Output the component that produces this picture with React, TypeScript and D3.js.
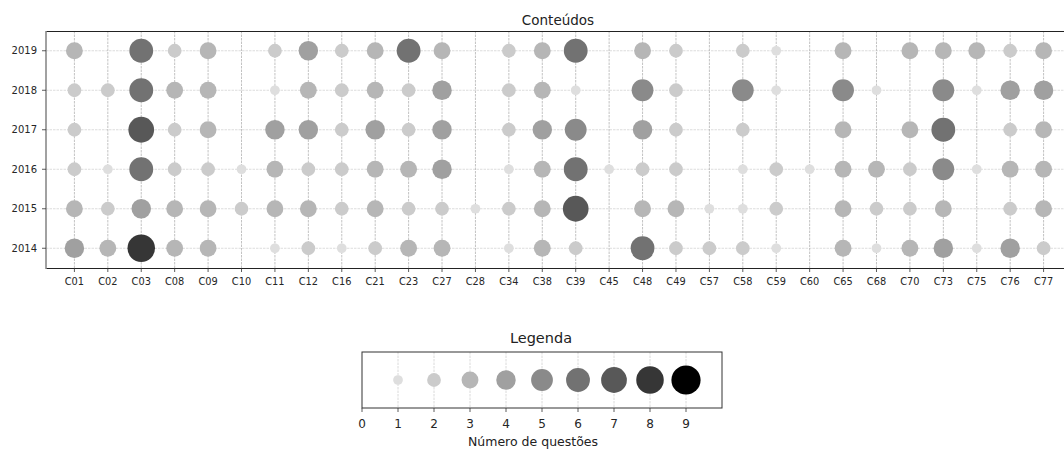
import React, { useEffect, useRef } from 'react';
import * as d3 from 'd3';

const categories = ['C01', 'C02', 'C03', 'C08', 'C09', 'C10', 'C11', 'C12', 'C16', 'C21', 'C23', 'C27', 'C28', 'C34', 'C38',
  'C39', 'C45', 'C48', 'C49', 'C57', 'C58', 'C59', 'C60', 'C65', 'C68', 'C70', 'C73', 'C75', 'C76', 'C77'];
const years = ['2014', '2015', '2016', '2017', '2018', '2019'];

// number of questions per category, 0 = none
const v2014 = [4, 3, 8, 3, 3, 0, 1, 2, 1, 2, 3, 3, 0, 1, 3, 2, 0, 6, 2, 2, 2, 1, 0, 3, 1, 3, 4, 1, 4, 2];
const v2015 = [3, 2, 4, 3, 3, 2, 3, 3, 2, 3, 2, 2, 1, 2, 3, 7, 0, 3, 3, 1, 1, 2, 0, 3, 2, 2, 3, 0, 2, 3];
const v2016 = [2, 1, 6, 2, 2, 1, 3, 2, 2, 3, 3, 4, 0, 1, 3, 6, 1, 2, 2, 0, 1, 2, 1, 3, 3, 2, 5, 1, 3, 3];
const v2017 = [2, 0, 7, 2, 3, 0, 4, 4, 2, 4, 2, 4, 0, 2, 4, 5, 0, 4, 2, 0, 2, 0, 0, 3, 0, 3, 6, 0, 2, 3];
const v2018 = [2, 2, 6, 3, 3, 0, 1, 3, 2, 3, 2, 4, 0, 2, 3, 1, 0, 5, 2, 0, 5, 1, 0, 5, 1, 0, 5, 1, 4, 4];
const v2019 = [3, 0, 6, 2, 3, 0, 2, 4, 2, 3, 6, 3, 0, 2, 3, 6, 0, 3, 2, 0, 2, 1, 0, 3, 0, 3, 3, 3, 2, 3];
const series = [v2014, v2015, v2016, v2017, v2018, v2019];

const legendValues = [1, 2, 3, 4, 5, 6, 7, 8, 9];
const legendTicks = [0, 1, 2, 3, 4, 5, 6, 7, 8, 9];
const greys = ['#dedede', '#cbcbcb', '#b6b6b6', '#a0a0a0', '#8a8a8a', '#727272', '#585858', '#363636', '#000000'];

const FONT = 'DejaVu Sans, sans-serif';

const App = () => {
  const svgRef = useRef<SVGSVGElement>(null);

  useEffect(() => {
    const svg = d3.select(svgRef.current);
    svg.selectAll('*').remove();

    const color = d3.scaleOrdinal<number, string>().domain(legendValues).range(greys);
    const r = d3.scaleSqrt().domain([0, 9]).range([0, 14.6]);

    // main panel
    const left = 46, right = 1072, top = 31, bottom = 268;
    const x = d3.scaleLinear().domain([-0.85, categories.length - 0.15]).range([left, right]);
    const y = d3.scaleLinear().domain([-0.5, years.length - 0.5]).range([bottom, top]);

    const g = svg.append('g');

    g.selectAll('line.hgrid').data(years).enter().append('line')
      .attr('x1', left).attr('x2', right)
      .attr('y1', (_d, i) => y(i)).attr('y2', (_d, i) => y(i))
      .attr('stroke', '#d4d4d4').attr('stroke-width', 0.8).attr('stroke-dasharray', '2.5,1');

    g.selectAll('line.vgrid').data(categories).enter().append('line')
      .attr('x1', (_d, i) => x(i)).attr('x2', (_d, i) => x(i))
      .attr('y1', top).attr('y2', bottom)
      .attr('stroke', '#b4b4b4').attr('stroke-width', 0.8).attr('stroke-dasharray', '2.5,1');

    const points: { c: number; yi: number; v: number }[] = [];
    series.forEach((vals, yi) => vals.forEach((v, c) => { if (v > 0) points.push({ c, yi, v }); }));

    g.selectAll('circle').data(points).enter().append('circle')
      .attr('cx', d => x(d.c)).attr('cy', d => y(d.yi))
      .attr('r', d => r(d.v))
      .attr('fill', d => color(d.v));

    // frame
    g.append('line').attr('x1', left).attr('x2', right).attr('y1', top + 0.5).attr('y2', top + 0.5)
      .attr('stroke', '#222').attr('stroke-width', 1);
    g.append('line').attr('x1', left).attr('x2', right).attr('y1', bottom + 0.5).attr('y2', bottom + 0.5)
      .attr('stroke', '#222').attr('stroke-width', 1);
    g.append('line').attr('x1', left).attr('x2', left).attr('y1', top).attr('y2', bottom + 1)
      .attr('stroke', '#8a8a8a').attr('stroke-width', 1.6);

    // y ticks
    years.forEach((yr, i) => {
      g.append('line').attr('x1', left - 4).attr('x2', left).attr('y1', y(i)).attr('y2', y(i))
        .attr('stroke', '#333').attr('stroke-width', 0.8);
      g.append('text').attr('x', left - 9).attr('y', y(i)).attr('dy', '0.35em')
        .attr('text-anchor', 'end').style('font-family', FONT).style('font-size', '10px')
        .attr('fill', '#262626').text(yr);
    });

    // x ticks
    categories.forEach((c, i) => {
      g.append('line').attr('x1', x(i)).attr('x2', x(i)).attr('y1', bottom).attr('y2', bottom + 4)
        .attr('stroke', '#333').attr('stroke-width', 0.8);
      g.append('text').attr('x', x(i)).attr('y', bottom + 17)
        .attr('text-anchor', 'middle').style('font-family', FONT).style('font-size', '9.8px')
        .attr('fill', '#262626').text(c);
    });

    g.append('text').attr('x', 558).attr('y', 25).attr('text-anchor', 'middle')
      .style('font-family', FONT).style('font-size', '13.5px').attr('fill', '#222').text('Conteúdos');

    // legend panel
    const lx = d3.scaleLinear().domain([0, 10]).range([362, 722]);
    const lTop = 352, lBottom = 408, lMid = (lTop + lBottom) / 2;
    const lg = svg.append('g');

    lg.selectAll('line.lgrid').data(legendValues).enter().append('line')
      .attr('x1', d => lx(d)).attr('x2', d => lx(d)).attr('y1', lTop).attr('y2', lBottom)
      .attr('stroke', '#d0d0d0').attr('stroke-width', 0.8).attr('stroke-dasharray', '2.5,1');

    lg.selectAll('circle').data(legendValues).enter().append('circle')
      .attr('cx', d => lx(d)).attr('cy', lMid).attr('r', d => r(d)).attr('fill', d => color(d));

    lg.append('rect').attr('x', lx(0)).attr('y', lTop).attr('width', lx(10) - lx(0)).attr('height', lBottom - lTop)
      .attr('fill', 'none').attr('stroke', '#333').attr('stroke-width', 1);

    legendTicks.forEach(t => {
      lg.append('line').attr('x1', lx(t)).attr('x2', lx(t)).attr('y1', lBottom).attr('y2', lBottom + 4)
        .attr('stroke', '#333').attr('stroke-width', 0.8);
      lg.append('text').attr('x', lx(t)).attr('y', lBottom + 20).attr('text-anchor', 'middle')
        .style('font-family', FONT).style('font-size', '12px').attr('fill', '#262626').text(String(t));
    });

    lg.append('text').attr('x', 541).attr('y', 343).attr('text-anchor', 'middle')
      .style('font-family', FONT).style('font-size', '14.5px').attr('fill', '#222').text('Legenda');
    lg.append('text').attr('x', 533).attr('y', 446).attr('text-anchor', 'middle')
      .style('font-family', FONT).style('font-size', '12.5px').attr('fill', '#222').text('Número de questões');
  }, []);

  return (
    <svg ref={svgRef} width={1064} height={450}
      style={{ position: 'absolute', left: 0, top: 0, background: '#fff' }} />
  );
};

export default App;
